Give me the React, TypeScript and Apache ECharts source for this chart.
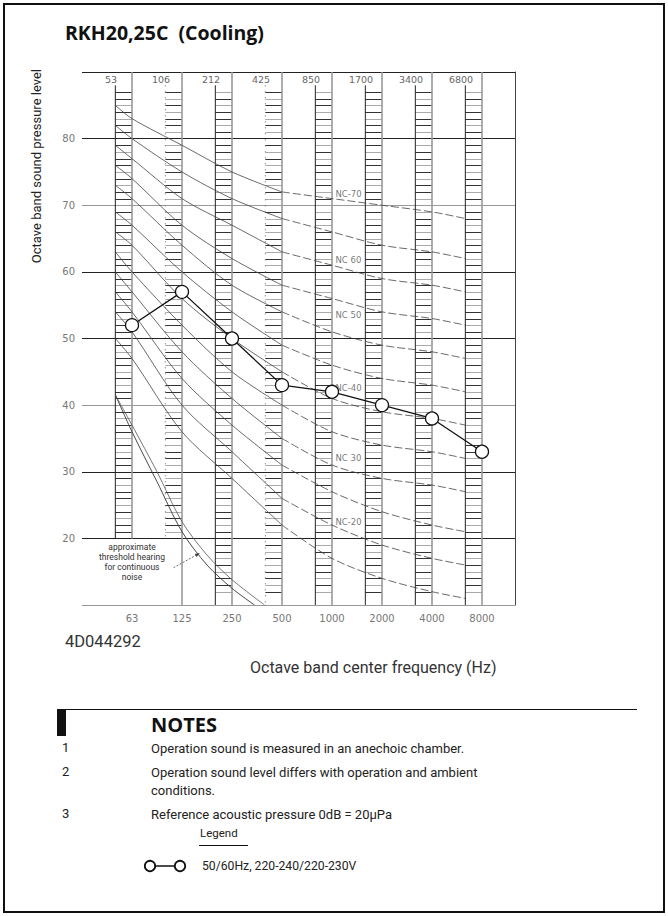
import React, { useEffect, useRef } from 'react';
import * as echarts from 'echarts';

// ---- data ----
const bandLabels = ['63', '125', '250', '500', '1000', '2000', '4000', '8000'];
const headerLabels = ['53', '106', '212', '425', '850', '1700', '3400', '6800'];
const yTickLabels = [20, 30, 40, 50, 60, 70, 80];
const measured = [52, 57, 50, 43, 42, 40, 38, 33];

const nc70 = [83, 79, 75, 72, 71, 70, 69, 68];
const nc65 = [80, 75, 71, 68, 66, 64, 63, 62];
const nc60 = [77, 71, 67, 63, 61, 59, 58, 57];
const nc55 = [74, 67, 62, 58, 56, 54, 53, 52];
const nc50 = [71, 64, 58, 54, 51, 49, 48, 47];
const nc45 = [67, 60, 54, 49, 46, 44, 43, 42];
const nc40 = [64, 56, 50, 45, 41, 39, 38, 37];
const nc35 = [60, 52, 45, 40, 36, 34, 33, 32];
const nc30 = [57, 48, 41, 35, 31, 29, 28, 27];
const nc25 = [54, 44, 37, 31, 27, 24, 22, 21];
const nc20 = [51, 40, 33, 26, 22, 19, 17, 16];
const nc15 = [47, 36, 29, 22, 17, 14, 12, 11];
const ncCurves = [nc70, nc65, nc60, nc55, nc50, nc45, nc40, nc35, nc30, nc25, nc20, nc15];
// level of each curve where it starts, at the left edge of the 63 Hz ladder
const ncLeftEnds = [85, 82, 79, 76, 73, 69, 66, 63, 60, 57, 54, 50];

const ncLabelTexts = ['NC-70', 'NC 60', 'NC 50', 'NC-40', 'NC 30', 'NC-20'];
const ncLabelLevels = [71.7, 61.8, 53.6, 42.5, 32.1, 22.5];

// approximate threshold of hearing (two traced lines): [band position, dB]
const thresholdInner = [[-0.33, 41.5], [0, 36], [0.5, 28.5], [1, 21], [1.5, 16], [2, 12.5], [2.45, 10]];
const thresholdOuter = [[-0.33, 41.5], [0, 37], [0.5, 30], [1, 22.5], [1.5, 17.5], [2, 13.8], [2.65, 10]];

const notes = [
  ['1', 'Operation sound is measured in an anechoic chamber.'],
  ['2', 'Operation sound level differs with operation and ambient\nconditions.'],
  ['3', 'Reference acoustic pressure 0dB = 20\u03bcPa'],
];

const FONT = '"Open Sans", "Noto Sans", sans-serif';
const TFONT = 'Roboto, "Open Sans", sans-serif';
const LADDER = 1 / 3;

function ncSeries(vals: number[], left: number) {
  const pts: number[][] = [[-LADDER, left]];
  for (let i = 0; i < 7; i++) pts.push([i, vals[i]]);
  pts.push([7 - LADDER, vals[7]]);
  const solid = pts.filter((p) => p[0] <= 3);
  const dashed = pts.filter((p) => p[0] >= 3);
  return [
    {
      type: 'line', data: solid, smooth: 0.3, symbol: 'none', silent: true, z: 3,
      lineStyle: { color: '#444', width: 0.8 },
    },
    {
      type: 'line', data: dashed, smooth: 0.3, symbol: 'none', silent: true, z: 3,
      lineStyle: { color: '#444', width: 0.8, type: [8, 3] },
    },
  ];
}

export default function App() {
  const ref = useRef<HTMLDivElement>(null);
  useEffect(() => {
    if (!ref.current) return;
    const chart = echarts.init(ref.current, null, { renderer: 'svg' });

    const ladderSeries = {
      type: 'custom',
      silent: true,
      z: 1,
      clip: false,
      encode: { x: 0, y: 1 },
      itemStyle: { color: '#333' },
      data: bandLabels.map((_, i) => [i, 50]),
      renderItem: (params: any, api: any) => {
        const i = api.value(0);
        const xl = api.coord([i - LADDER, 50])[0];
        const xr = api.coord([i, 50])[0];
        const yTop = api.coord([i, 88])[1];
        const leftBottom = i < 2 ? 20 : 10;
        const sepBottom = i === 0 ? 20 : 10;
        const rungBottom = i < 2 ? 21 : 12;
        const dotted = i === 1 || i === 3;
        const children: any[] = [];
        for (let d = rungBottom; d <= 87; d++) {
          if (d % 10 === 0) continue;
          const y = Math.round(api.coord([i, d])[1]) + 0.5;
          const grey = (d * 7 + i * 3) % 5 < 2;
          children.push({
            type: 'line',
            shape: { x1: xl, y1: y, x2: xr, y2: y },
            style: { stroke: grey ? '#aaa' : '#333', lineWidth: 1 },
          });
        }
        children.push({
          type: 'line',
          shape: { x1: xl, y1: yTop, x2: xl, y2: api.coord([i, leftBottom])[1] },
          style: dotted
            ? { stroke: '#666', lineWidth: 1, lineDash: [1, 5] }
            : { stroke: '#222', lineWidth: 1 },
        });
        children.push({
          type: 'line',
          shape: { x1: xr, y1: api.coord([i, 90])[1], x2: xr, y2: api.coord([i, sepBottom])[1] },
          style: { stroke: '#999', lineWidth: 1.6 },
        });
        return { type: 'group', children };
      },
    };

    const headerSeries = {
      type: 'custom',
      silent: true,
      z: 4,
      clip: false,
      encode: { x: 0, y: 1 },
      itemStyle: { color: '#666' },
      data: headerLabels.map((t, i) => [i, 89]),
      renderItem: (params: any, api: any) => {
        const i = api.value(0);
        const p = api.coord([i - 0.42, 88.8]);
        return {
          type: 'text', x: p[0], y: p[1],
          style: {
            text: headerLabels[i], fill: '#666', fontSize: 9.5, fontFamily: '"DejaVu Sans"',
            align: 'center', verticalAlign: 'middle',
          },
        };
      },
    };

    const ncLabelSeries = {
      type: 'scatter',
      silent: true,
      z: 5,
      symbol: 'circle',
      symbolSize: 0,
      itemStyle: { color: '#555' },
      data: ncLabelTexts.map((t, k) => ({ name: t, value: [4.07, ncLabelLevels[k]] })),
      label: {
        show: true, position: 'right', distance: 0, formatter: '{b}',
        color: '#555', fontSize: 8.5, fontFamily: '"DejaVu Sans"',
        textBorderWidth: 0, textShadowBlur: 0,
      },
    };

    const arrowSeries = {
      type: 'custom',
      silent: true,
      z: 5,
      clip: false,
      encode: { x: 0, y: 1 },
      itemStyle: { color: '#444' },
      data: [[0.83, 15.6, 1.36, 17.8]],
      renderItem: (params: any, api: any) => {
        const a = api.coord([api.value(0), api.value(1)]);
        const b = api.coord([api.value(2), api.value(3)]);
        const ang = Math.atan2(b[1] - a[1], b[0] - a[0]);
        const L = 5, W = 1.8;
        const bx = b[0] - L * Math.cos(ang), by = b[1] - L * Math.sin(ang);
        return {
          type: 'group',
          children: [
            { type: 'line', shape: { x1: a[0], y1: a[1], x2: bx, y2: by }, style: { stroke: '#444', lineWidth: 0.8, lineDash: [2, 1.5] } },
            {
              type: 'polygon',
              shape: {
                points: [
                  [b[0], b[1]],
                  [bx + W * Math.sin(ang), by - W * Math.cos(ang)],
                  [bx - W * Math.sin(ang), by + W * Math.cos(ang)],
                ],
              },
              style: { fill: '#444' },
            },
          ],
        };
      },
    };

    const series: any[] = [ladderSeries, headerSeries];
    ncCurves.forEach((c, k) => series.push(...ncSeries(c, ncLeftEnds[k])));
    series.push(
      {
        type: 'line', data: thresholdInner, smooth: 0.3, symbol: 'none', silent: true, z: 3,
        lineStyle: { color: '#333', width: 0.9 },
      },
      {
        type: 'line', data: thresholdOuter, smooth: 0.3, symbol: 'none', silent: true, z: 3,
        lineStyle: { color: '#555', width: 0.8 },
      },
      ncLabelSeries,
      arrowSeries,
      {
        type: 'line', name: '50/60Hz, 220-240/220-230V',
        data: measured.map((v, i) => [i, v]),
        symbol: 'circle', symbolSize: 13, z: 10,
        lineStyle: { color: '#111', width: 1.3 },
        itemStyle: { color: '#fff', borderColor: '#111', borderWidth: 1.3 },
      }
    );

    const g: any[] = [
      { type: 'rect', silent: true, shape: { x: 4, y: 4, width: 660, height: 908 }, style: { fill: 'none', stroke: '#111', lineWidth: 2 } },
      { type: 'text', x: 65, y: 32, style: { text: 'RKH20,25C  (Cooling)', fontSize: 19.5, fontWeight: 'bold', fontFamily: FONT, fill: '#111', verticalAlign: 'middle' } },
      { type: 'text', x: 36, y: 69, rotation: Math.PI / 2, style: { text: 'Octave band sound pressure level', fontSize: 13, fontFamily: TFONT, fill: '#222', align: 'right', verticalAlign: 'middle' } },
      { type: 'text', x: 65, y: 641, style: { text: '4D044292', fontSize: 16.5, fontFamily: TFONT, fill: '#333', verticalAlign: 'middle' } },
      { type: 'text', x: 250, y: 667, style: { text: 'Octave band center frequency (Hz)', fontSize: 16, fontFamily: TFONT, fill: '#333', verticalAlign: 'middle' } },
      { type: 'text', x: 132, y: 562, style: { text: 'approximate\nthreshold hearing\nfor continuous\nnoise', fontSize: 8.5, lineHeight: 10, fontFamily: TFONT, fill: '#333', align: 'center', verticalAlign: 'middle' } },
      { type: 'line', silent: true, shape: { x1: 57, y1: 709.5, x2: 637, y2: 709.5 }, style: { stroke: '#111', lineWidth: 1 } },
      { type: 'rect', silent: true, shape: { x: 57, y: 709, width: 9, height: 27 }, style: { fill: '#111' } },
      { type: 'text', x: 151, y: 724, style: { text: 'NOTES', fontSize: 20, fontWeight: 'bold', fontFamily: FONT, fill: '#111', verticalAlign: 'middle' } },
      { type: 'text', x: 200, y: 833, style: { text: 'Legend', fontSize: 11.5, fontFamily: TFONT, fill: '#222', verticalAlign: 'middle' } },
      { type: 'line', silent: true, shape: { x1: 199, y1: 845.5, x2: 248, y2: 845.5 }, style: { stroke: '#111', lineWidth: 1 } },
      { type: 'circle', silent: true, shape: { cx: 150, cy: 866, r: 5.2 }, style: { fill: 'none', stroke: '#111', lineWidth: 1.8 } },
      { type: 'line', silent: true, shape: { x1: 155.2, y1: 866, x2: 174.8, y2: 866 }, style: { stroke: '#111', lineWidth: 1.5 } },
      { type: 'circle', silent: true, shape: { cx: 180, cy: 866, r: 5.2 }, style: { fill: 'none', stroke: '#111', lineWidth: 1.8 } },
      { type: 'text', x: 202, y: 866, style: { text: '50/60Hz, 220-240/220-230V', fontSize: 12.2, fontFamily: TFONT, fill: '#222', verticalAlign: 'middle' } },
    ];
    const noteY = [747, 771, 813];
    notes.forEach((n, k) => {
      g.push({ type: 'text', x: 62, y: noteY[k], style: { text: n[0], fontSize: 13, fontFamily: TFONT, fill: '#222', verticalAlign: 'middle' } });
      g.push({ type: 'text', x: 151, y: noteY[k] - 8, style: { text: n[1], fontSize: 13, lineHeight: 18, fontFamily: TFONT, fill: '#222', verticalAlign: 'top' } });
    });

    chart.setOption({
      animation: false,
      grid: { left: 82, right: 153, top: 72, bottom: 311, containLabel: false },
      xAxis: {
        type: 'value', min: -1, max: 7.66, interval: 1,
        axisLine: { show: false }, axisTick: { show: false }, splitLine: { show: false },
        axisLabel: {
          color: '#777', fontSize: 10, fontFamily: '"DejaVu Sans"', margin: 8,
          showMaxLabel: false, showMinLabel: false,
          formatter: (v: number) => (Number.isInteger(v) && v >= 0 && v < bandLabels.length ? bandLabels[v] : ''),
        },
      },
      yAxis: [
        {
          type: 'value', min: 10, max: 90, interval: 10,
          axisLine: { show: false }, axisTick: { show: false },
          axisLabel: {
            color: '#777', fontSize: 10, fontFamily: '"DejaVu Sans"', margin: 7,
            formatter: (v: number) => (yTickLabels.indexOf(v) >= 0 ? String(v) : ''),
          },
          splitLine: { show: true, lineStyle: { color: ['#999', '#222', '#222'], width: 1 } },
        },
        {
          type: 'value', min: 10, max: 90, position: 'right',
          axisLine: { show: true, lineStyle: { color: '#444', width: 1 } },
          axisTick: { show: false }, axisLabel: { show: false }, splitLine: { show: false },
        },
      ],
      series,
      graphic: g,
    });
    return () => chart.dispose();
  }, []);
  return <div ref={ref} style={{ position: 'fixed', left: 0, top: 0, width: 668, height: 916, background: '#fff' }} />;
}
